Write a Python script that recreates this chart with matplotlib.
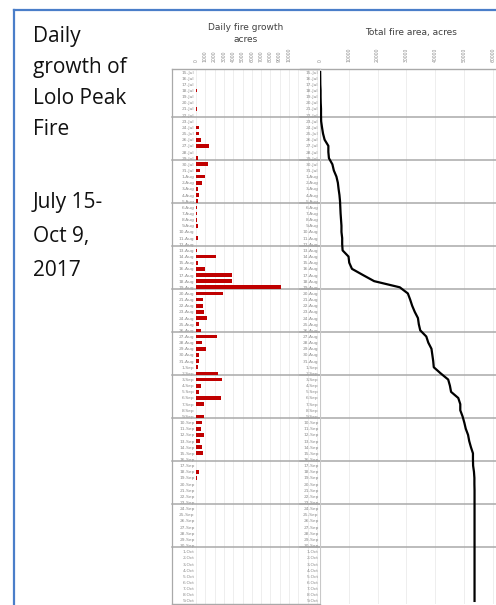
import numpy as np
import pandas as pd
import matplotlib
matplotlib.use("Agg")
import matplotlib.pyplot as plt
from matplotlib.lines import Line2D

# Days of the fire, one row each
days = pd.date_range("2017-07-15", "2017-10-09", freq="D")
day_labels = [f"{d.day}-{d:%b}" for d in days]

# Acres burned each day
daily_growth = [
    0, 30, 20, 100, 0, 50, 100, 0,                      # 15-22 Jul
    50, 300, 350, 540, 1360, 0, 215,                   # 23-29 Jul
    1250, 470, 970, 610, 215, 320, 215,                # 30 Jul - 5 Aug
    70, 100, 140, 180, 0, 250, 0,                      # 6-12 Aug
    140, 2110, 215, 970, 3830, 3830, 9100,             # 13-19 Aug
    2900, 715, 750, 900, 1180, 320, 540,               # 20-26 Aug
    2260, 645, 1075, 285, 285, 250, 2330,              # 27 Aug - 2 Sep
    2800, 575, 360, 2650, 820, 0, 820,                 # 3-9 Sep
    610, 540, 820, 390, 610, 750, 0,                   # 10-16 Sep
    30, 320, 140, 0, 20, 0, 0,                         # 17-23 Sep
    0, 0, 0, 0, 0, 0, 0,                               # 24-30 Sep
    0, 0, 0, 0, 0, 0, 0, 0, 0,                         # 1-9 Oct
]

# Running total of the fire area, acres
total_area = [
    50, 80, 100, 200, 200, 250, 350, 350,
    400, 700, 1050, 1600, 2900, 2900, 3100,
    4300, 4800, 5700, 6200, 6450, 6750, 6950,
    7050, 7150, 7300, 7450, 7450, 7700, 7700,
    7850, 9900, 10150, 11100, 14900, 18800, 27700,
    30500, 31300, 32000, 32900, 34000, 34300, 34800,
    36900, 37600, 38700, 39000, 39300, 39500, 41900,
    44500, 45100, 45500, 48000, 48700, 48700, 49500,
    50100, 50600, 51400, 51800, 52400, 53100, 53100,
    53150, 53450, 53600, 53600, 53650, 53650, 53650,
    53650, 53650, 53650, 53650, 53650, 53650, 53650,
    53650, 53650, 53650, 53650, 53650, 53650, 53650, 53650, 53650,
]

# Rows that close each week (darker separators)
week_ends = ["22-Jul", "29-Jul", "5-Aug", "12-Aug", "19-Aug", "26-Aug",
             "2-Sep", "9-Sep", "16-Sep", "23-Sep", "30-Sep"]

growth_ticks = np.arange(0, 10001, 1000)
area_ticks = np.arange(0, 60001, 10000)

W, H = 496, 605
GRAY_TXT = "#8a8a8a"
GRID = "#ebebeb"
SEP = "#a9a9a9"


def box(left, top, right, bottom):
    return [left / W, 1 - bottom / H, (right - left) / W, (bottom - top) / H]


fig = plt.figure(figsize=(W / 100, H / 100), dpi=100)
fig.patch.set_facecolor("white")

rows = np.arange(len(days))
sep_rows = [day_labels.index(d) + 0.3 for d in week_ends]


def style_axis(ax, ticks, tick_text, extend_left):
    ax.set_ylim(len(days) - 0.5, -0.5)
    ax.set_yticks(rows, day_labels)
    ax.tick_params(axis="y", length=0, pad=1, labelsize=3.2, labelcolor=GRAY_TXT)
    ax.xaxis.tick_top()
    ax.set_xticks(ticks, tick_text, rotation=90)
    ax.tick_params(axis="x", length=0, pad=5, labelsize=3.3, labelcolor=GRAY_TXT)
    for s in ax.spines.values():
        s.set_visible(False)
    ax.grid(axis="x", color=GRID, lw=0.6)
    ax.set_axisbelow(True)
    for r in sep_rows:
        ax.axhline(r, xmin=-extend_left, xmax=1, color=SEP, lw=1.1, clip_on=False)
    ax.axhline(-0.5, xmin=-extend_left, xmax=1, color=SEP, lw=1.0, clip_on=False)


# Daily growth bars
ax1 = fig.add_axes(box(196, 69, 320, 604))
ax1.barh(rows, daily_growth, height=0.6, color="#c00000", zorder=3)
ax1.set_xlim(0, 13333)
extra = np.arange(11000, 13001, 1000)
style_axis(ax1, np.concatenate([growth_ticks, extra]),
           [str(t) for t in growth_ticks] + [""] * len(extra), 24 / 124)
ax1.axhline(len(days) - 0.5, xmin=-24 / 124, xmax=1, color=SEP, lw=1.0, clip_on=False)
ax1.plot([-24 / 124] * 2, [0, 1], transform=ax1.transAxes, color=SEP, lw=0.9,
         clip_on=False)

# Cumulative area line
ax2 = fig.add_axes(box(320, 69, 496, 604))
ax2.plot(total_area, rows, color="black", lw=1.6, zorder=3)
ax2.set_xlim(0, 61100)
style_axis(ax2, area_ticks, [str(t) for t in area_ticks], 20 / 176)
ax2.plot([0, 0], [0, 1], transform=ax2.transAxes, color="#c8c8c8", lw=0.8)

# Chart titles
fig.text(246 / W, 1 - 28 / H, "Daily fire growth", ha="center", va="center",
         fontsize=6.5, color="#404040")
fig.text(246 / W, 1 - 40 / H, "acres", ha="center", va="center",
         fontsize=6.5, color="#404040")
fig.text(411 / W, 1 - 33 / H, "Total fire area, acres", ha="center", va="center",
         fontsize=6.5, color="#404040")

# Caption panel
fig.text(33 / W, 1 - 26 / H, "Daily\ngrowth of\nLolo Peak\nFire",
         family="Open Sans", fontsize=15, linespacing=1.62, va="top", ha="left",
         color="#111111")
fig.text(33 / W, 1 - 192 / H, "July 15-\nOct 9,\n2017",
         family="Open Sans", fontsize=15, linespacing=1.8, va="top", ha="left",
         color="#111111")

# Blue frame
frame = "#4a7ec9"
fig.add_artist(Line2D([14 / W, 14 / W], [0, 1 - 10 / H], color=frame, lw=1.6))
fig.add_artist(Line2D([14 / W, 1], [1 - 10 / H, 1 - 10 / H], color=frame, lw=1.6))

fig.savefig("out.png", dpi=100)
